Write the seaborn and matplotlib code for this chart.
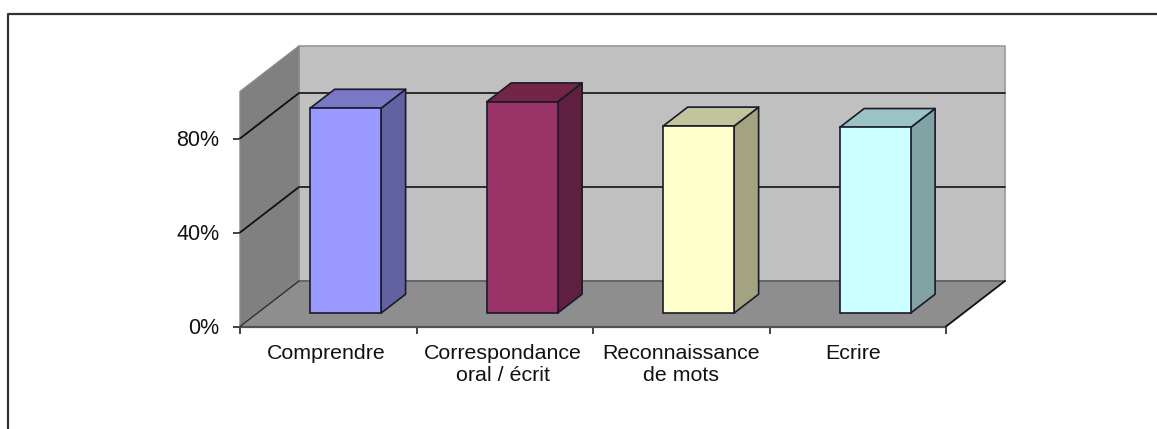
import matplotlib
matplotlib.use("Agg")
import matplotlib.pyplot as plt
import seaborn as sns
import pandas as pd
from matplotlib.patches import Polygon
from matplotlib.lines import Line2D
from matplotlib.transforms import Affine2D, IdentityTransform

categories = ["Comprendre", "Correspondance", "Reconnaissance", "Ecrire"]
tick_labels = ["Comprendre", "Correspondance\noral / écrit", "Reconnaissance\nde mots", "Ecrire"]
values = [87.2, 89.9, 79.6, 79.0]
front_colors = ["#9999FF", "#993366", "#FFFFCC", "#CCFFFF"]
side_colors = ["#6262A2", "#5F2040", "#A3A382", "#82A3A3"]
top_colors = ["#7878C4", "#732548", "#C4C49C", "#9CC4C4"]
y_ticks = [0, 40, 80]
label_nudges = [-2, -2, 0, -5]

W, H = 1157, 429
sns.set_style("white")
plt.rcParams["font.family"] = ["Liberation Sans", "DejaVu Sans"]

fig = plt.figure(figsize=(W / 100, H / 100), dpi=100, facecolor="white")
ax = fig.add_axes([240 / W, (H - 326.5) / H, 706 / W, 235 / H])
ax.patch.set_visible(False)

df = pd.DataFrame({"cat": categories, "val": values})
sns.barplot(data=df, x="cat", y="val", hue="cat", palette=front_colors, dodge=False,
            saturation=1, width=0.402, legend=False, ax=ax, zorder=5)
bars = list(ax.patches)
ax.set_xlim(-0.5, 3.5)
ax.set_ylim(0, 100)
ax.set_xlabel("")
ax.set_ylabel("")
sns.despine(ax=ax, left=True, bottom=True, top=True, right=True)

DX, DY = 59.0, 45.5      # depth of the 3D box, in pixels
D0, D1 = 0.295, 0.71     # depth span of the bars


def proj(x, y, d=0.0):
    px, py = ax.transData.transform((x, y))
    return (px + DX * d, py + DY * d)


def poly(points, face, edge="none", lw=0.0, z=1):
    ax.add_patch(Polygon(points, closed=True, facecolor=face, edgecolor=edge, linewidth=lw,
                         transform=IdentityTransform(), clip_on=False, zorder=z, joinstyle="round"))


def line(p, q, color="#202020", lw=1.4, z=2):
    ax.add_line(Line2D([p[0], q[0]], [p[1], q[1]], color=color, linewidth=lw,
                       transform=IdentityTransform(), clip_on=False, zorder=z))


xl, xr = -0.5, 3.5
# walls and floor
poly([proj(xl, 0, 1), proj(xr, 0, 1), proj(xr, 100, 1), proj(xl, 100, 1)], "#C0C0C0", "#9A9A9A", 1.2, 1)
poly([proj(xl, 0), proj(xl, 0, 1), proj(xl, 100, 1), proj(xl, 100)], "#808080", "#8A8A8A", 1.0, 1.2)
poly([proj(xl, 0), proj(xr, 0), proj(xr, 0, 1), proj(xl, 0, 1)], "#8E8E8E", "none", 0, 1.4)
line(proj(xl, 0, 1), proj(xr, 0, 1), "#666666", 1.4, 1.6)
line(proj(xl, 0), proj(xr, 0), "#505050", 1.6, 1.6)
line(proj(xr, 0), proj(xr, 0, 1), "#101010", 1.3, 2)
line(proj(xl, 0), proj(xl, 0, 1), "#303030", 1.0, 2)
for t in y_ticks[1:]:
    line(proj(xl, t), proj(xl, t, 1), "#101010", 1.3, 2)
    line(proj(xl, t, 1), proj(xr, t, 1), "#2A2A2A", 1.4, 2)

# bars: front faces come from seaborn; depth is added from each bar's own geometry
shift = ax.transData + Affine2D().translate(DX * D0, DY * D0)
for b, side, top in zip(bars, side_colors, top_colors):
    x0, x1, h = b.get_x(), b.get_x() + b.get_width(), b.get_height()
    b.set_transform(shift)
    b.set_clip_on(False)
    b.set_edgecolor("#1A1A2A")
    b.set_linewidth(1.2)
    poly([proj(x1, 0, D0), proj(x1, 0, D1), proj(x1, h, D1), proj(x1, h, D0)], side, "#1A1A2A", 1.2, 4)
    poly([proj(x0, h, D0), proj(x1, h, D0), proj(x1, h, D1), proj(x0, h, D1)], top, "#1A1A2A", 1.2, 4)

# axes ticks and text
ax.set_yticks(y_ticks)
ax.set_yticklabels([f"{t}%" for t in y_ticks], fontsize=15.5, color="#111111")
ax.tick_params(axis="y", which="major", left=True, length=5, width=1.1, color="#111111", pad=10)
ax.set_xticks([i - 0.5 for i in range(len(categories) + 1)])
ax.set_xticklabels([""] * (len(categories) + 1))
ax.set_xticks(range(len(categories)), labels=tick_labels, minor=True)
ax.tick_params(axis="x", which="major", bottom=True, length=5, width=1.1, color="#111111")
ax.tick_params(axis="x", which="minor", bottom=False, length=0, pad=12.5, labelsize=15.4, labelcolor="#111111")
for lab, nudge in zip(ax.get_xticklabels(minor=True), label_nudges):
    lab.set_linespacing(1.2)
    lab.set_ha("center")
    lab.set_transform(lab.get_transform() + Affine2D().translate(nudge, 0))

# outer chart frame: only its top and left edges fall inside the picture
fig.add_artist(Line2D([7.5 / W, 7.5 / W, 1.0], [0.0, (H - 14) / H, (H - 14) / H],
                      transform=fig.transFigure, color="#333333", linewidth=1.6))

fig.savefig("out.png", dpi=100, facecolor="white")
